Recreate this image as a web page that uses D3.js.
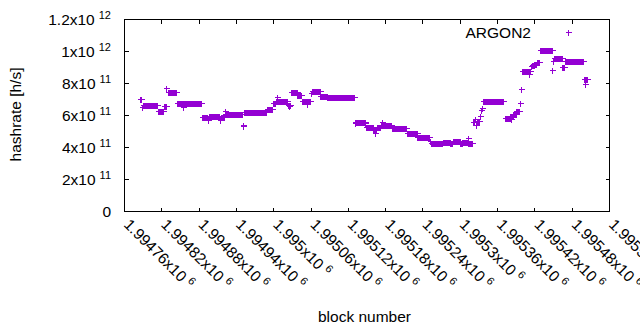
<!DOCTYPE html>
<html>
<head>
<meta charset="utf-8">
<script src="https://cdn.jsdelivr.net/npm/d3@7"></script>
<style>
  body { margin: 0; background: #fff; }
  text { font-family: "Liberation Sans", Arial, sans-serif; fill: #000; }
</style>
</head>
<body>
<div id="chart"></div>
<script>
const width = 640, height = 330;
const margin = { left: 124, right: 31, top: 19, bottom: 119 };

const runStart = [1994786, 1994789, 1994790, 1994815, 1994824, 1994828, 1994830, 1994846, 1994855, 1994885,
  1994895, 1994897, 1994915, 1994916, 1994922, 1994923, 1994951, 1994952, 1994953, 1994990,
  1994999, 1995004, 1995006, 1995023, 1995025, 1995028, 1995039, 1995046, 1995055, 1995061,
  1995062, 1995076, 1995087, 1995131, 1995132, 1995148, 1995149, 1995161, 1995164, 1995167,
  1995173, 1995175, 1995191, 1995215, 1995232, 1995252, 1995253, 1995273, 1995285, 1995289,
  1995301, 1995304, 1995313, 1995314, 1995321, 1995324, 1995326, 1995328, 1995332, 1995334,
  1995335, 1995337, 1995372, 1995381, 1995383, 1995386, 1995391, 1995397, 1995399, 1995400,
  1995412, 1995415, 1995416, 1995420, 1995424, 1995429, 1995449, 1995450, 1995451, 1995465,
  1995469, 1995500, 1995501];
const runEnd = [1994787, 1994789, 1994813, 1994823, 1994827, 1994828, 1994844, 1994884, 1994855, 1994894,
  1994895, 1994913, 1994915, 1994921, 1994922, 1994950, 1994951, 1994952, 1994988, 1994998,
  1995003, 1995022, 1995006, 1995027, 1995025, 1995038, 1995045, 1995059, 1995055, 1995061,
  1995075, 1995086, 1995130, 1995131, 1995147, 1995148, 1995160, 1995166, 1995164, 1995172,
  1995190, 1995175, 1995214, 1995231, 1995251, 1995252, 1995272, 1995284, 1995288, 1995300,
  1995303, 1995312, 1995313, 1995320, 1995323, 1995324, 1995326, 1995331, 1995332, 1995334,
  1995335, 1995370, 1995380, 1995385, 1995383, 1995390, 1995396, 1995397, 1995399, 1995413,
  1995412, 1995415, 1995419, 1995423, 1995428, 1995448, 1995449, 1995450, 1995464, 1995468,
  1995498, 1995505, 1995501];
const runValue = [7.0, 6.48, 6.6, 6.25, 6.58, 7.67, 7.42, 6.73, 6.5, 5.9,
  5.7, 5.96, 5.7, 5.85, 6.25, 6.04, 5.4, 5.3, 6.17, 6.35,
  6.76, 6.89, 7.15, 6.65, 6.56, 7.46, 7.25, 6.86, 6.7, 7.4,
  7.48, 7.17, 7.1, 5.48, 5.54, 5.53, 5.23, 5.13, 4.9, 5.27,
  5.38, 5.58, 5.17, 4.85, 4.6, 4.38, 4.24, 4.33, 4.24, 4.37,
  4.24, 4.33, 4.54, 4.24, 5.55, 5.75, 5.4, 5.6, 5.95, 6.3,
  6.42, 6.87, 5.83, 5.94, 5.75, 6.08, 6.22, 6.73, 7.65, 8.74,
  8.57, 9.07, 9.1, 9.2, 9.3, 10.04, 8.82, 9.38, 9.58, 9.02,
  9.37, 8.26, 7.93];

const yTicks = [0, 2e11, 4e11, 6e11, 8e11, 1e12, 1.2e12];
const yTickMain = ["0", "2x10", "4x10", "6x10", "8x10", "1x10", "1.2x10"];
const yTickExp = ["", "11", "11", "11", "11", "12", "12"];
const xTicks = [1994760, 1994820, 1994880, 1994940, 1995000, 1995060, 1995120,
  1995180, 1995240, 1995300, 1995360, 1995420, 1995480, 1995540];
const xTickMain = ["1.99476x10", "1.99482x10", "1.99488x10", "1.99494x10", "1.995x10", "1.99506x10", "1.99512x10",
  "1.99518x10", "1.99524x10", "1.9953x10", "1.99536x10", "1.99542x10", "1.99548x10", "1.99554x10"];
const color = "#9400d3";
const fontSize = 15.5;

// one point per block of each run
const points = [];
runStart.forEach((s, i) => {
  for (let b = s; b <= runEnd[i]; b++) points.push({ block: b, value: runValue[i] * 1e11 });
});

const svg = d3.select("#chart").append("svg")
  .attr("width", width).attr("height", height);

const x = d3.scaleLinear().domain([1994760, 1995540]).range([margin.left, width - margin.right]);
const y = d3.scaleLinear().domain([0, 1.2e12]).range([height - margin.bottom, margin.top]);
const bottom = height - margin.bottom;

// Ticks on all four sides, pointing inwards
svg.append("g").attr("transform", `translate(0,${bottom + 0.5})`)
  .call(d3.axisBottom(x).tickValues(xTicks).tickSize(-4).tickSizeOuter(0).tickFormat(""));
svg.append("g").attr("transform", `translate(0,${margin.top + 0.5})`)
  .call(d3.axisTop(x).tickValues(xTicks).tickSize(-4).tickSizeOuter(0).tickFormat(""));
svg.append("g").attr("transform", `translate(${margin.left + 0.5},0)`)
  .call(d3.axisLeft(y).tickValues(yTicks).tickSize(-4).tickSizeOuter(0).tickFormat(""));
svg.append("g").attr("transform", `translate(${width - margin.right + 0.5},0)`)
  .call(d3.axisRight(y).tickValues(yTicks).tickSize(-4).tickSizeOuter(0).tickFormat(""));
svg.selectAll(".domain").remove();
svg.selectAll(".tick line").attr("stroke", "#000").attr("shape-rendering", "crispEdges");

svg.append("rect")
  .attr("x", margin.left + 0.5).attr("y", margin.top + 0.5)
  .attr("width", width - margin.left - margin.right).attr("height", bottom - margin.top)
  .attr("fill", "none").attr("stroke", "#000").attr("shape-rendering", "crispEdges");

// Y tick labels
yTicks.forEach((t, i) => {
  const lab = svg.append("text")
    .attr("x", 111).attr("y", y(t) + 5.5)
    .attr("text-anchor", "end")
    .style("font-size", fontSize + "px")
    .text(yTickMain[i]);
  if (yTickExp[i]) {
    lab.append("tspan").attr("dx", 4).attr("dy", -6).style("font-size", "11px").text(yTickExp[i]);
  }
});

// X tick labels, rotated
xTicks.forEach((t, i) => {
  const lab = svg.append("text")
    .attr("transform", `translate(${x(t) - 1},${bottom + 14.5}) rotate(45)`)
    .style("font-size", fontSize + "px")
    .text(xTickMain[i]);
  lab.append("tspan").attr("dx", 4).attr("dy", -6).style("font-size", "11px").text("6");
});

// Axis titles
svg.append("text")
  .attr("x", 364.5).attr("y", 321.5)
  .attr("text-anchor", "middle")
  .style("font-size", fontSize + "px")
  .text("block number");
svg.append("text")
  .attr("transform", `translate(21,${114.5}) rotate(-90)`)
  .attr("text-anchor", "middle")
  .style("font-size", fontSize + "px")
  .text("hashrate [h/s]");

// Points
const plus = "M-3,0H3M0,-3V3";
svg.append("g").selectAll("path")
  .data(points)
  .join("path")
  .attr("transform", d => `translate(${Math.round(x(d.block)) + 0.5},${Math.round(y(d.value)) + 0.5})`)
  .attr("d", plus)
  .attr("fill", "none")
  .attr("stroke", color)
  .attr("stroke-width", 1)
  .attr("shape-rendering", "crispEdges");

// Legend
svg.append("text")
  .attr("x", 531).attr("y", 37.5)
  .attr("text-anchor", "end")
  .style("font-size", fontSize + "px")
  .text("ARGON2");
svg.append("path")
  .attr("transform", "translate(568.5,32.5)")
  .attr("d", plus)
  .attr("fill", "none")
  .attr("stroke", color)
  .attr("shape-rendering", "crispEdges");
</script>
</body>
</html>
